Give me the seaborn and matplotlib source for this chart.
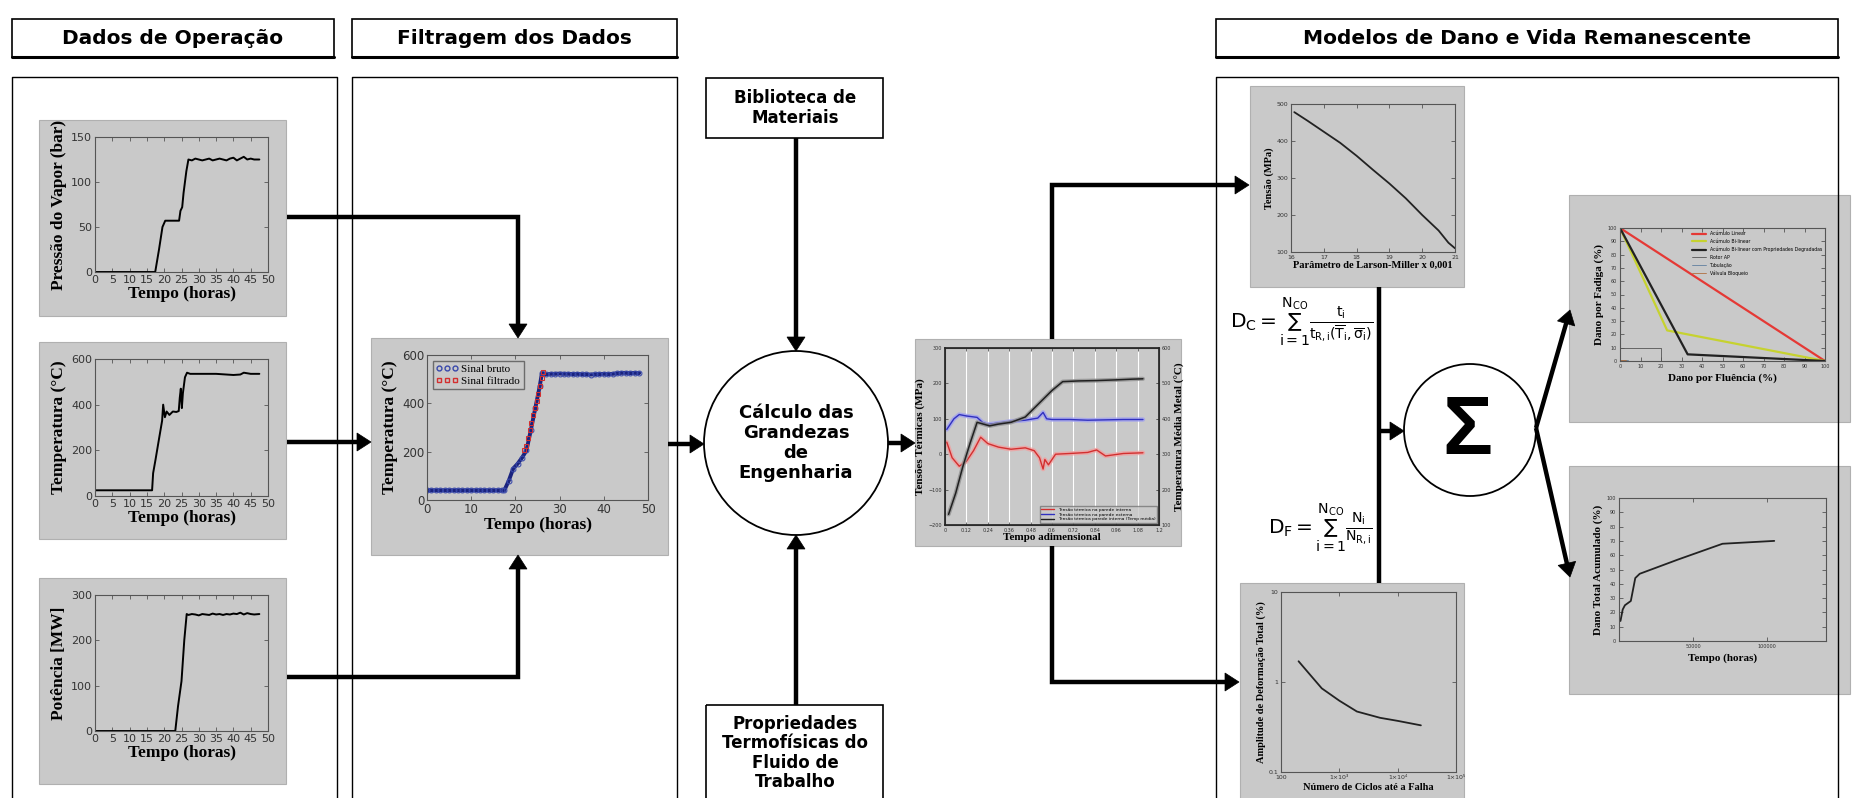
import numpy as np
import pandas as pd
import matplotlib
matplotlib.use("Agg")
import matplotlib.pyplot as plt
import seaborn as sns
from matplotlib.patches import Rectangle, Circle, Polygon
from matplotlib.lines import Line2D
from matplotlib.ticker import FixedLocator, NullLocator, FixedFormatter

# ---------------- DATA ----------------
# Pressure of steam (bar) vs time (h)
p_time = [0, 5, 10, 15, 17.4, 18.5, 19.5, 20.3, 21.5, 23, 24.3, 24.7, 25.2, 25.6, 26.0, 26.4, 27.0,
          28, 29, 30, 31, 32, 33, 34, 35, 36, 37, 38, 39, 40, 41, 42, 43, 44, 45, 46, 47.5]
p_val = [0, 0, 0, 0, 0, 25, 50, 57, 57, 57, 57, 68, 72, 88, 100, 112, 125,
         124, 126, 125, 124, 125, 126, 124, 125, 126, 125, 124, 126, 127, 124, 126, 128, 125, 126, 125, 125]
# Temperature (°C) vs time (h)
t_time = [0, 5, 10, 16.5, 16.8, 17.5, 18.5, 19.4, 19.7, 20.2, 20.7, 21.5, 22.5, 23.5, 24.2, 24.5,
          24.8, 25.1, 25.4, 26.0, 26.6, 27.5, 30, 35, 40, 42, 43, 45, 47.5]
t_val = [25, 25, 25, 25, 100, 160, 250, 330, 400, 345, 370, 355, 370, 368, 372, 430,
         470, 385, 450, 520, 540, 535, 535, 535, 530, 532, 540, 535, 535]
# Power (MW) vs time (h)
w_time = [0, 5, 10, 15, 20, 23.2, 24.0, 25.0, 25.8, 26.5, 27, 28, 29, 30, 31, 32, 33, 34, 35, 36,
          37, 38, 39, 40, 41, 42, 43, 44, 45, 46, 47.5]
w_val = [0, 0, 0, 0, 0, 0, 55, 110, 200, 258, 256, 258, 257, 255, 258, 257, 256, 259, 257, 258,
         256, 258, 257, 259, 258, 261, 257, 260, 258, 257, 258]
# Filtering: raw and filtered temperature signal
raw_time = [0, 1, 2, 3, 4, 5, 6, 7, 8, 9, 10, 11, 12, 13, 14, 15, 16, 17, 17.5, 18.5, 19.5, 20.5, 21.5,
            22.5, 23.5, 24.5, 25.5, 26, 27, 28, 29, 30, 31, 32, 33, 34, 35, 36, 37, 38, 39, 40, 41, 42,
            43, 44, 45, 46, 47, 48]
raw_val = [40, 40, 40, 40, 40, 40, 40, 40, 40, 40, 40, 40, 40, 40, 40, 40, 40, 40, 40, 80, 130, 150, 175,
           205, 290, 380, 470, 525, 520, 522, 522, 523, 522, 522, 521, 522, 520, 520, 519, 520, 521, 522,
           521, 522, 524, 526, 526, 525, 526, 525]
filt_time = [22.0, 22.4, 22.8, 23.2, 23.6, 24.0, 24.4, 24.8, 25.2, 25.6, 26.0, 26.3]
filt_val = [205, 225, 255, 290, 320, 350, 380, 410, 440, 470, 505, 530]
# Thermal stresses (MPa) and mean metal temperature (°C) vs dimensionless time
th_x_blue = [0.01, 0.05, 0.08, 0.12, 0.18, 0.21, 0.24, 0.30, 0.37, 0.45, 0.52, 0.55, 0.57, 0.60, 0.70,
             0.80, 0.90, 1.00, 1.11]
th_blue = [70, 100, 112, 108, 104, 90, 84, 88, 93, 96, 102, 118, 100, 98, 98, 96, 97, 98, 98]
th_x_red = [0.01, 0.04, 0.08, 0.12, 0.16, 0.20, 0.24, 0.30, 0.37, 0.45, 0.50, 0.53, 0.55, 0.56, 0.58,
            0.62, 0.70, 0.80, 0.85, 0.90, 1.00, 1.11]
th_red = [34, -10, -34, -20, 10, 48, 30, 20, 14, 18, 10, -10, -42, -15, -30, 0, 2, 5, 12, -5, 2, 4]
th_x_blk = [0.02, 0.06, 0.10, 0.14, 0.18, 0.25, 0.30, 0.37, 0.45, 0.52, 0.60, 0.66, 0.75, 0.85, 0.96,
            1.05, 1.11]
th_blk = [130, 190, 265, 330, 390, 380, 385, 390, 405, 440, 480, 505, 507, 508, 510, 512, 513]
th_labels = ["Tensão térmica na parede interna", "Tensão térmica na parede externa",
             "Tensão térmica parede interna (Temp média)"]
# Larson-Miller
lm_x = [16.1, 16.5, 17.0, 17.5, 18.0, 18.5, 19.0, 19.5, 20.0, 20.5, 20.8, 21.0]
lm_y = [478, 455, 425, 395, 360, 322, 285, 245, 200, 158, 125, 110]
# Strain amplitude vs cycles to failure
sn_N = [200, 300, 500, 1000, 2000, 5000, 10000, 25000]
sn_e = [1.7, 1.25, 0.85, 0.62, 0.47, 0.40, 0.37, 0.33]
# Fatigue vs creep damage
fat_labels = ["Acúmulo Linear", "Acúmulo Bi-linear", "Acúmulo Bi-linear com Propriedades Degradadas",
              "Rotor AP", "Tubulação", "Válvula Bloqueio"]
lin_creep = [0, 100]; lin_fat = [100, 0]
bil_creep = [0, 23, 100]; bil_fat = [100, 23, 0]
deg_creep = [0, 33, 100]; deg_fat = [100, 5, 0]
rot_creep = [0, 20, 20]; rot_fat = [10, 10, 0]
tub_creep = [0, 4]; tub_fat = [1, 1]
val_creep = [0, 3]; val_fat = [0.5, 0.5]
# Total accumulated damage vs time
tot_t = [1000, 2500, 4000, 8000, 11000, 14000, 40000, 70000, 105000]
tot_d = [14, 22, 25, 28, 44, 47, 57, 68, 70]

# ---------------- FIGURE ----------------
W, H, DPI = 1852, 798, 100
sns.set_theme(style="ticks")
plt.rcParams['font.family'] = ['DejaVu Sans']
plt.rcParams['text.color'] = 'black'
plt.rcParams['axes.labelcolor'] = 'black'
plt.rcParams['mathtext.fontset'] = 'custom'
plt.rcParams['mathtext.rm'] = 'Liberation Sans'
plt.rcParams['mathtext.it'] = 'Liberation Sans'
plt.rcParams['mathtext.bf'] = 'Liberation Sans:bold'

fig = plt.figure(figsize=(W / DPI, H / DPI), dpi=DPI)
fig.patch.set_facecolor('white')
bg = fig.add_axes([0, 0, 1, 1])
bg.set_xlim(0, W); bg.set_ylim(H, 0); bg.axis('off')

GRAY = '#c9c9c9'
SERIF = 'Liberation Serif'


def ax_at(x0, y0, x1, y1):
    return fig.add_axes([x0 / W, 1 - y1 / H, (x1 - x0) / W, (y1 - y0) / H])


def gray_box(x0, y0, x1, y1):
    bg.add_patch(Rectangle((x0, y0), x1 - x0, y1 - y0, facecolor=GRAY, edgecolor='#b0b0b0', lw=0.8, zorder=1))


def rect(x0, y0, x1, y1, lw=1.0):
    bg.add_patch(Rectangle((x0, y0), x1 - x0, y1 - y0, facecolor='none', edgecolor='black', lw=lw, zorder=2))


def head(x, y, dx, dy, L=14, hw=9):
    n = np.hypot(dx, dy); ux, uy = dx / n, dy / n
    bx, by = x - ux * L, y - uy * L
    px, py = -uy, ux
    bg.add_patch(Polygon([(x, y), (bx + px * hw, by + py * hw), (bx - px * hw, by - py * hw)],
                         closed=True, facecolor='black', edgecolor='black', lw=0.5, zorder=6))


def arrow(pts, tip=True, lw=3.2):
    xs = [p[0] for p in pts]; ys = [p[1] for p in pts]
    if tip:
        dx, dy = xs[-1] - xs[-2], ys[-1] - ys[-2]
        n = np.hypot(dx, dy)
        xs2 = xs[:-1] + [xs[-1] - dx / n * 10]; ys2 = ys[:-1] + [ys[-1] - dy / n * 10]
        bg.plot(xs2, ys2, color='black', lw=lw, solid_joinstyle='miter', solid_capstyle='butt', zorder=5)
        head(xs[-1], ys[-1], dx, dy)
    else:
        bg.plot(xs, ys, color='black', lw=lw, solid_capstyle='butt', zorder=5)


def style(ax, xlim, ylim, xticks=None, yticks=None, fs=9, logx=False, logy=False):
    ax.set_facecolor(GRAY)
    if logx: ax.set_xscale('log')
    if logy: ax.set_yscale('log')
    ax.set_xlim(xlim); ax.set_ylim(ylim)
    if xticks is not None: ax.set_xticks(xticks)
    if yticks is not None: ax.set_yticks(yticks)
    ax.tick_params(direction='in', top=True, right=True, length=3, width=0.6, colors='#555',
                   labelsize=fs, labelcolor='#333', pad=2)
    for s in ax.spines.values():
        s.set_color('#555'); s.set_linewidth(0.8)
    ax.set_xlabel(''); ax.set_ylabel('')


# ---------- header boxes and panels ----------
for (x0, x1, label) in [(12, 334, 'Dados de Operação'), (352, 677, 'Filtragem dos Dados'),
                        (1216, 1838, 'Modelos de Dano e Vida Remanescente')]:
    rect(x0, 19, x1, 57, lw=1.2)
    bg.plot([x0, x1], [57, 57], color='black', lw=2.2, zorder=2)
    bg.text((x0 + x1) / 2, 38, label, ha='center', va='center', fontsize=14.5, fontweight='bold',
            color='black')

for (x0, x1) in [(12, 337), (352, 677), (1216, 1838)]:
    bg.plot([x0, x0, x1, x1], [800, 77, 77, 800], color='black', lw=1.0, zorder=2)

# Material library and fluid property boxes
rect(706, 78, 883, 138, lw=1.2)
bg.text(795, 108, 'Biblioteca de\nMateriais', ha='center', va='center', fontsize=12,
        fontweight='bold', linespacing=1.1, color='black')
rect(706, 705, 883, 800, lw=1.2)
bg.text(795, 753, 'Propriedades\nTermofísicas do\nFluido de\nTrabalho', ha='center', va='center',
        fontsize=12, fontweight='bold', linespacing=1.1, color='black')

# central circle
bg.add_patch(Circle((796, 443), 92, facecolor='white', edgecolor='black', lw=1.3, zorder=3))
bg.text(796, 443, 'Cálculo das\nGrandezas\nde\nEngenharia', ha='center', va='center', fontsize=13,
        fontweight='bold', linespacing=1.15, zorder=4, color='black')

# sigma circle
bg.add_patch(Circle((1470, 430), 66, facecolor='white', edgecolor='black', lw=1.3, zorder=3))
bg.text(1467, 432, 'Σ', ha='center', va='center', fontsize=60, fontweight='bold', zorder=4,
        color='black', family='Liberation Sans')

# formulas
bg.text(1230, 322, r'$\mathregular{D_C=\sum_{i=1}^{N_{CO}}\frac{t_i}{t_{R,i}(\overline{T}_i,\overline{\sigma}_i)}}$',
        ha='left', va='center', fontsize=14.5, zorder=4, color='black')
bg.text(1268, 528, r'$\mathregular{D_F=\sum_{i=1}^{N_{CO}}\frac{N_i}{N_{R,i}}}$',
        ha='left', va='center', fontsize=14.5, zorder=4, color='black')

# ---------- arrows ----------
arrow([(287, 217), (518, 217), (518, 338)])
arrow([(287, 442), (371, 442)])
arrow([(287, 677), (518, 677), (518, 555)])
arrow([(668, 444), (704, 444)])
arrow([(796, 138), (796, 351)])
arrow([(796, 705), (796, 535)])
arrow([(888, 443), (915, 443)])
arrow([(1052, 339), (1052, 185), (1249, 185)])
arrow([(1052, 546), (1052, 682), (1239, 682)])
arrow([(1379, 287), (1379, 583)], tip=False)
arrow([(1379, 431), (1404, 431)])
arrow([(1536, 428), (1570, 310)])
arrow([(1536, 428), (1570, 577)])

# ---------- gray chart backgrounds ----------
for b in [(39, 120, 286, 316), (39, 342, 286, 539), (39, 578, 286, 784), (371, 338, 668, 555),
          (915, 339, 1181, 546), (1250, 86, 1464, 287), (1240, 583, 1464, 800),
          (1569, 195, 1850, 422), (1569, 466, 1850, 694)]:
    gray_box(*b)

# ---------- left operation charts ----------
tt = list(range(0, 51, 5))
LFS = 8
ax = ax_at(95, 137, 268, 272)
sns.lineplot(x=p_time, y=p_val, ax=ax, color='black', lw=1.4)
style(ax, (0, 50), (0, 150), tt, [0, 50, 100, 150], fs=LFS)
ax.set_xlabel('Tempo (horas)', fontfamily=SERIF, fontweight='bold', fontsize=12.5, labelpad=1)
ax.set_ylabel('Pressão do Vapor (bar)', fontfamily=SERIF, fontweight='bold', fontsize=12.5, labelpad=3)

ax = ax_at(95, 359, 268, 496)
sns.lineplot(x=t_time, y=t_val, ax=ax, color='black', lw=1.4)
style(ax, (0, 50), (0, 600), tt, [0, 200, 400, 600], fs=LFS)
ax.set_xlabel('Tempo (horas)', fontfamily=SERIF, fontweight='bold', fontsize=12.5, labelpad=1)
ax.set_ylabel('Temperatura (°C)', fontfamily=SERIF, fontweight='bold', fontsize=12.5, labelpad=3)

ax = ax_at(95, 595, 268, 731)
sns.lineplot(x=w_time, y=w_val, ax=ax, color='black', lw=1.4)
style(ax, (0, 50), (0, 300), tt, [0, 100, 200, 300], fs=LFS)
ax.set_xlabel('Tempo (horas)', fontfamily=SERIF, fontweight='bold', fontsize=12.5, labelpad=1)
ax.set_ylabel('Potência [MW]', fontfamily=SERIF, fontweight='bold', fontsize=12.5, labelpad=3)

# ---------- filtering chart ----------
ax = ax_at(427, 355, 648, 500)
sns.lineplot(x=raw_time, y=raw_val, ax=ax, color='#1a237e', lw=2.8, marker='o', markersize=3.5,
             markerfacecolor='none', markeredgecolor='#3949ab', label='Sinal bruto')
sns.lineplot(x=filt_time, y=filt_val, ax=ax, color='#d32f2f', lw=0, marker='s', markersize=3.5,
             markerfacecolor='none', markeredgecolor='#d32f2f', label='Sinal filtrado')
style(ax, (0, 50), (0, 600), [0, 10, 20, 30, 40, 50], [0, 200, 400, 600], fs=8.5)
h, l = ax.get_legend_handles_labels()
hl = [Line2D([], [], ls='none', marker='o', markersize=3.5, markerfacecolor='none', markeredgecolor='#3949ab'),
      Line2D([], [], ls='none', marker='s', markersize=3.5, markerfacecolor='none', markeredgecolor='#d32f2f')]
ax.legend(hl, l, loc='upper left', numpoints=3, frameon=True, fancybox=False,
          edgecolor='#555', facecolor=GRAY, borderpad=0.3, handletextpad=0.3, labelspacing=0.2,
          prop={'family': SERIF, 'size': 8})
ax.set_xlabel('Tempo (horas)', fontfamily=SERIF, fontweight='bold', fontsize=12.5, labelpad=1)
ax.set_ylabel('Temperatura (°C)', fontfamily=SERIF, fontweight='bold', fontsize=12.5, labelpad=3)

# ---------- thermal stress chart ----------
ax = ax_at(945, 348, 1159, 525)
ax2 = ax.twinx()
style(ax, (0, 1.2), (-200, 300), [0, 0.12, 0.24, 0.36, 0.48, 0.6, 0.72, 0.84, 0.96, 1.08, 1.2],
      [-200, -100, 0, 100, 200, 300], fs=3.5)
ax.grid(axis='x', color='white', lw=0.8)
ax.set_axisbelow(True)
ax.set_xticklabels(['0', '0.12', '0.24', '0.36', '0.48', '0.6', '0.72', '0.84', '0.96', '1.08', '1.2'])
for xs, ys, c, lc in [(th_x_red, th_red, '#d32f2f', '#f0a0a0'), (th_x_blue, th_blue, '#3030c0', '#a0a0f0')]:
    sns.lineplot(x=xs, y=ys, ax=ax, color=lc, lw=3.2, alpha=0.8, legend=False)
    sns.lineplot(x=xs, y=ys, ax=ax, color=c, lw=1.0, legend=False)
sns.lineplot(x=th_x_blk, y=th_blk, ax=ax2, color='#909090', lw=3.0, alpha=0.8, legend=False)
sns.lineplot(x=th_x_blk, y=th_blk, ax=ax2, color='#202020', lw=1.1, legend=False)
ax2.set_ylim(100, 600); ax2.set_yticks([100, 200, 300, 400, 500, 600])
ax2.tick_params(direction='in', length=2, width=0.5, colors='#555', labelsize=3.5, labelcolor='#333', pad=2)
ax2.set_ylabel('Temperatura Média Metal (°C)', fontfamily=SERIF, fontweight='bold', fontsize=8, labelpad=3)
ax.set_ylabel('Tensões Térmicas (MPa)', fontfamily=SERIF, fontweight='bold', fontsize=8, labelpad=3)
ax.set_xlabel('Tempo adimensional', fontfamily=SERIF, fontweight='bold', fontsize=8, labelpad=0)
ax.tick_params(length=2)
hl = [Line2D([], [], color='#d32f2f', lw=1), Line2D([], [], color='#3030c0', lw=1),
      Line2D([], [], color='#202020', lw=1)]
ax.legend(hl, th_labels, loc='lower right', fontsize=3.2, frameon=True, fancybox=False, edgecolor='#777',
          facecolor=GRAY, borderpad=0.3, labelspacing=0.15, handlelength=3)

# ---------- Larson-Miller ----------
ax = ax_at(1291, 104, 1455, 252)
sns.lineplot(x=lm_x, y=lm_y, ax=ax, color='#222', lw=1.3)
style(ax, (16, 21), (100, 500), [16, 17, 18, 19, 20, 21], [100, 200, 300, 400, 500], fs=4.5)
ax.set_xlabel('Parâmetro de Larson-Miller x 0,001', fontfamily=SERIF, fontweight='bold', fontsize=7.5, labelpad=1)
ax.set_ylabel('Tensão (MPa)', fontfamily=SERIF, fontweight='bold', fontsize=7.5, labelpad=2)

# ---------- strain-life ----------
ax = ax_at(1281, 592, 1456, 772)
sns.lineplot(x=sn_N, y=sn_e, ax=ax, color='#222', lw=1.3)
style(ax, (100, 1e5), (0.1, 10), fs=4.5, logx=True, logy=True)
ax.xaxis.set_major_locator(FixedLocator([100, 1e3, 1e4, 1e5]))
ax.xaxis.set_major_formatter(FixedFormatter(['100', '1×10³', '1×10⁴', '1×10⁵']))
ax.xaxis.set_minor_locator(NullLocator())
ax.yaxis.set_major_locator(FixedLocator([0.1, 1, 10]))
ax.yaxis.set_major_formatter(FixedFormatter(['0.1', '1', '10']))
ax.yaxis.set_minor_locator(NullLocator())
ax.set_xlabel('Número de Ciclos até a Falha', fontfamily=SERIF, fontweight='bold', fontsize=7.5, labelpad=2)
ax.set_ylabel('Amplitude de Deformação Total (%)', fontfamily=SERIF, fontweight='bold', fontsize=7.5, labelpad=2)

# ---------- fatigue/creep interaction ----------
ax = ax_at(1620, 228, 1825, 361)
series = [(lin_creep, lin_fat, '#e53935', 1.6), (bil_creep, bil_fat, '#c6d230', 1.6),
          (deg_creep, deg_fat, '#222222', 1.6), (rot_creep, rot_fat, '#555555', 0.6),
          (tub_creep, tub_fat, '#6080a0', 0.6), (val_creep, val_fat, '#b07040', 0.6)]
for (xs, ys, c, lw), lab in zip(series, fat_labels):
    sns.lineplot(x=xs, y=ys, ax=ax, color=c, lw=lw, label=lab, sort=False, estimator=None)
style(ax, (0, 100), (0, 100), list(range(0, 101, 10)), list(range(0, 101, 10)), fs=3.5)
ax.legend(loc='upper right', fontsize=3.3, frameon=False, borderpad=0.2, labelspacing=0.6, handlelength=3)
ax.set_xlabel('Dano por Fluência (%)', fontfamily=SERIF, fontweight='bold', fontsize=8, labelpad=3)
ax.set_ylabel('Dano por Fadiga (%)', fontfamily=SERIF, fontweight='bold', fontsize=8, labelpad=3)

# ---------- total accumulated damage ----------
ax = ax_at(1619, 498, 1826, 641)
sns.lineplot(x=tot_t, y=tot_d, ax=ax, color='#222', lw=1.3)
style(ax, (0, 140000), (0, 100), [50000, 100000], list(range(0, 101, 10)), fs=3.5)
ax.set_xticklabels(['50000', '100000'])
ax.set_xlabel('Tempo (horas)', fontfamily=SERIF, fontweight='bold', fontsize=8, labelpad=3)
ax.set_ylabel('Dano Total Acumulado (%)', fontfamily=SERIF, fontweight='bold', fontsize=8, labelpad=3)

fig.savefig('out.png', dpi=DPI, facecolor='white')
